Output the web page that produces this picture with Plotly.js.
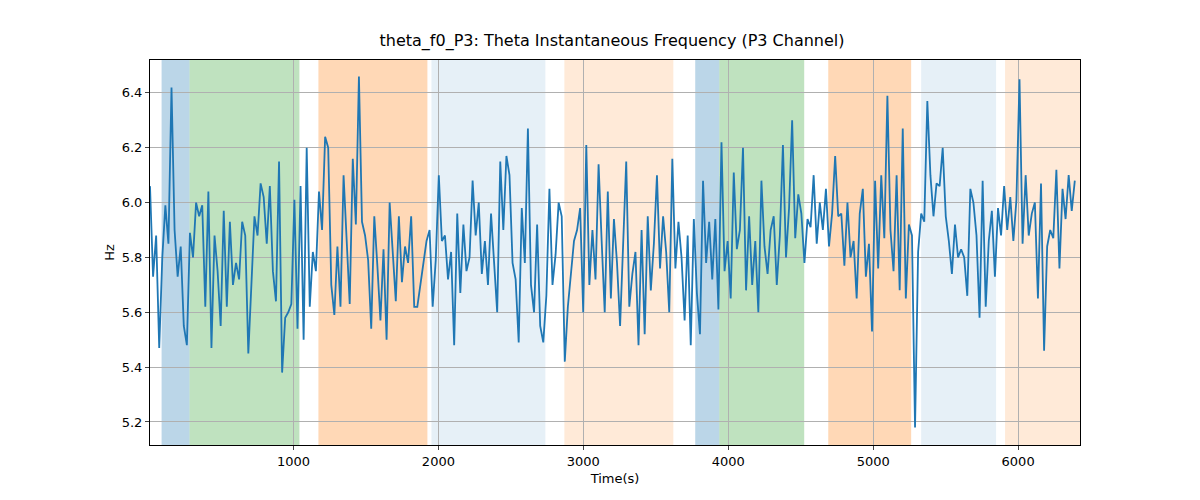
<!DOCTYPE html>
<html>
<head>
<meta charset="utf-8">
<script src="https://cdn.plot.ly/plotly-3.0.1.min.js"></script>
<style>body{margin:0;background:#fff}#chart{width:1200px;height:500px}</style>
</head>
<body>
<div id="chart"></div>
<script>
// Theta instantaneous frequency, P3 channel
const startTime = 10;
const sampleStep = 21.2;
const thetaHz = [
  6.06,5.73,5.88,5.47,5.8,5.99,5.85,6.42,5.9,5.73,5.84,5.55,5.48,5.89,5.8,6.0,5.95,5.99,5.62,6.04,5.47,5.88,5.75,5.55,
  5.97,5.62,5.93,5.7,5.78,5.72,5.93,5.88,5.45,5.72,5.95,5.88,6.07,6.02,5.85,6.06,5.75,5.64,6.15,5.38,5.58,5.6,5.63,6.01,
  5.54,6.06,5.5,6.2,5.62,5.82,5.75,6.04,5.9,6.24,6.2,5.7,5.59,5.84,5.62,6.1,5.84,5.63,6.16,5.92,6.46,5.93,5.88,5.79,
  5.54,5.95,5.77,5.57,5.83,5.5,6.0,5.8,5.64,5.95,5.71,5.84,5.78,5.95,5.62,5.62,5.7,5.78,5.86,5.9,5.62,5.79,6.1,5.86,
  5.88,5.72,5.82,5.48,5.96,5.67,5.92,5.75,5.8,6.08,5.88,6.0,5.74,5.86,5.7,5.96,5.78,5.6,6.15,5.9,6.17,6.1,5.78,5.72,
  5.49,5.98,5.78,6.27,5.7,5.6,5.92,5.55,5.49,5.66,6.05,5.7,5.81,6.0,5.95,5.42,5.62,5.73,5.86,5.9,5.98,5.6,6.21,5.7,
  5.9,5.72,6.14,5.86,5.6,6.04,5.65,5.94,5.78,5.55,5.82,6.15,5.62,5.74,5.82,5.48,5.9,5.52,5.95,5.68,5.85,6.1,5.76,5.95,
  5.82,5.6,6.16,5.76,5.93,5.8,5.57,5.88,5.48,5.94,5.67,5.52,6.08,5.78,5.93,5.72,5.94,5.61,6.22,5.75,5.86,5.65,6.11,5.83,
  5.9,6.2,5.68,5.95,5.7,5.86,5.6,6.08,5.84,5.74,5.9,5.95,5.7,5.88,6.21,5.8,5.98,6.3,5.87,6.03,5.96,5.78,5.94,5.91,
  6.1,5.85,6.0,5.9,6.05,5.84,5.96,6.17,5.95,5.96,5.77,6.0,5.8,5.86,5.65,5.96,6.05,5.73,5.85,5.53,6.08,5.76,6.1,5.87,
  6.39,5.9,5.75,6.1,5.68,6.27,5.65,5.92,5.88,5.18,5.82,5.96,5.93,6.37,6.1,5.95,6.07,6.06,6.2,5.95,5.86,5.74,5.92,5.8,
  5.83,5.8,5.66,6.05,6.0,5.88,5.58,6.08,5.62,5.86,5.97,5.73,5.98,5.88,6.06,5.9,6.02,5.86,6.01,6.45,
  5.85,6.1,5.88,5.96,6.0,5.65,6.07,5.46,5.84,5.9,5.87,6.12,5.76,6.05,5.94,6.1,5.97,6.08
];
const timeS = thetaHz.map((_, i) => startTime + i * sampleStep);

// shaded segments
const bandStart = [90, 283, 1172, 1952, 2869, 3772, 3938, 4690, 5331, 5910];
const bandEnd   = [283, 1041, 1924, 2738, 3621, 3938, 4524, 5262, 5848, 6427];
const bandKind  = ['blue', 'green', 'orange', 'lightblue', 'lightorange', 'blue', 'green', 'orange', 'lightblue', 'lightorange'];

const bandFill = {
    blue: 'rgba(31,119,180,0.3)',
    green: 'rgba(44,160,44,0.3)',
    orange: 'rgba(255,127,14,0.3)',
    lightblue: 'rgba(31,119,180,0.11)',
    lightorange: 'rgba(255,127,14,0.16)'
};

const shapes = bandStart.map((s, i) => ({
    type: 'rect', xref: 'x', yref: 'paper', x0: s, x1: bandEnd[i], y0: 0, y1: 1,
    fillcolor: bandFill[bandKind[i]], line: {width: 0}, layer: 'below'
}));

const trace = {
    x: timeS, y: thetaHz, type: 'scatter', mode: 'lines',
    line: {color: '#1f77b4', width: 1.8}
};

const layout = {
    width: 1200, height: 500,
    paper_bgcolor: '#fff', plot_bgcolor: 'rgba(0,0,0,0)',
    font: {family: 'DejaVu Sans', size: 13, color: '#000'},
    title: {text: 'theta_f0_P3: Theta Instantaneous Frequency (P3 Channel)', x: 0.51, y: 0.93, font: {size: 16}},
    margin: {l: 150, r: 120, t: 60, b: 55},
    showlegend: false,
    shapes: shapes,
    xaxis: {
        title: {text: 'Time(s)', standoff: 6, font: {size: 13}}, range: [10, 6427],
        tickvals: [1000, 2000, 3000, 4000, 5000, 6000],
        showgrid: true, gridcolor: '#b0b0b0', zeroline: false,
        showline: true, mirror: true, linecolor: '#000', ticks: 'outside', ticklen: 4
    },
    yaxis: {
        title: {text: 'Hz', font: {size: 13}}, range: [5.116, 6.52],
        tickvals: [5.2, 5.4, 5.6, 5.8, 6.0, 6.2, 6.4], tickformat: '.1f',
        showgrid: true, gridcolor: '#b0b0b0', zeroline: false,
        showline: true, mirror: true, linecolor: '#000', ticks: 'outside', ticklen: 4
    }
};

Plotly.newPlot('chart', [trace], layout, {displayModeBar: false});
</script>
</body>
</html>
